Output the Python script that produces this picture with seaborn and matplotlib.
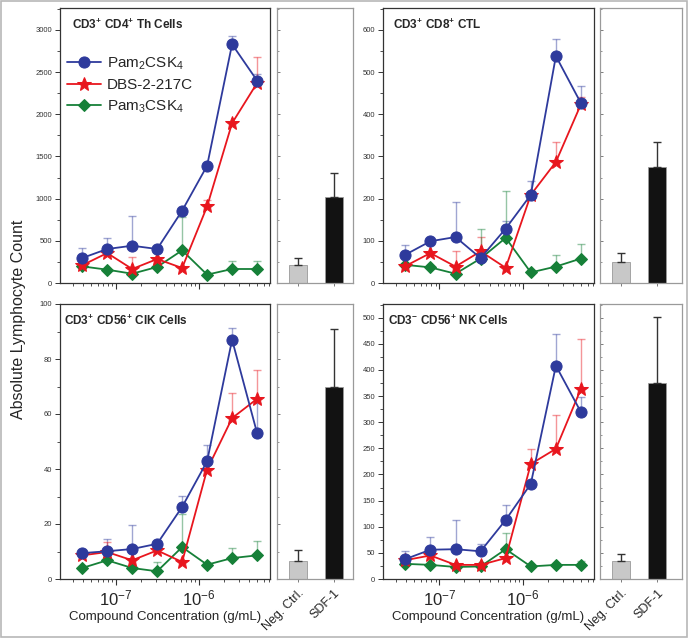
import numpy as np
import pandas as pd
import matplotlib
matplotlib.use("Agg")
import matplotlib.pyplot as plt
from matplotlib.patches import Rectangle
from matplotlib.ticker import MultipleLocator, LogLocator, NullFormatter
import seaborn as sns

# ---------------- data ----------------
conc = [3.90625e-8, 7.8125e-8, 1.5625e-7, 3.125e-7, 6.25e-7, 1.25e-6, 2.5e-6, 5e-6]
series_names = ["Pam$_2$CSK$_4$", "DBS-2-217C", "Pam$_3$CSK$_4$"]
bar_labels = ["Neg. Ctrl.", "SDF-1"]

th_pam2 = [296, 403, 442, 403, 857, 1390, 2830, 2400]
th_pam2_sd = [120, 130, 350, 30, 0, 0, 100, 80]
th_dbs = [210, 355, 166, 284, 178, 908, 1895, 2370]
th_dbs_sd = [0, 0, 140, 0, 0, 80, 0, 315]
th_pam3 = [197, 158, 110, 190, 387, 99, 166, 166]
th_pam3_sd = [0, 0, 0, 0, 400, 0, 90, 100]
th_bars = [213, 1025]
th_bars_sd = [87, 278]

ctl_pam2 = [67, 99, 109, 59, 129, 209, 538, 426]
ctl_pam2_sd = [24, 0, 84, 0, 19, 34, 40, 40]
ctl_dbs = [40, 71, 39, 75, 36, 209, 287, 424]
ctl_dbs_sd = [0, 0, 36, 34, 0, 0, 47, 18]
ctl_pam3 = [43, 37, 22, 58, 107, 25, 39, 58]
ctl_pam3_sd = [0, 0, 0, 70, 112, 0, 27, 34]
ctl_bars = [50, 275]
ctl_bars_sd = [20, 60]

cik_pam2 = [9.4, 10.1, 10.9, 12.8, 26.2, 42.8, 87.0, 53.1]
cik_pam2_sd = [0, 4.4, 8.9, 0, 3.9, 6.0, 4.3, 11]
cik_dbs = [8.6, 9.8, 6.8, 10.4, 6.2, 39.8, 58.5, 65.5]
cik_dbs_sd = [0, 3.5, 0, 0, 0, 0, 9.1, 10.6]
cik_pam3 = [4.0, 6.8, 4.0, 2.8, 11.6, 5.2, 7.6, 8.6]
cik_pam3_sd = [0, 0, 0, 3.3, 12.2, 0, 3.7, 5.1]
cik_bars = [6.5, 70]
cik_bars_sd = [4, 21]

nk_pam2 = [38, 56, 57, 53, 113, 182, 408, 319]
nk_pam2_sd = [16, 25, 55, 13, 28, 0, 61, 30]
nk_dbs = [36, 45, 27, 27, 40, 220, 249, 364]
nk_dbs_sd = [0, 0, 0, 0, 0, 29, 64, 95]
nk_pam3 = [29, 27, 23, 24, 57, 24, 27, 27]
nk_pam3_sd = [0, 0, 0, 0, 31, 0, 0, 7]
nk_bars = [35, 375]
nk_bars_sd = [13, 127]

panel_titles = [r"CD3$^\mathbf{+}$ CD4$^\mathbf{+}$ Th Cells",
                r"CD3$^\mathbf{+}$ CD8$^\mathbf{+}$ CTL",
                r"CD3$^\mathbf{+}$ CD56$^\mathbf{+}$ CIK Cells",
                r"CD3$^\mathbf{-}$ CD56$^\mathbf{+}$ NK Cells"]

# ---------------- style ----------------
sns.set_theme(style="ticks")
plt.rcParams["font.family"] = ["Liberation Sans", "DejaVu Sans"]
plt.rcParams["mathtext.fontset"] = "custom"
plt.rcParams["mathtext.rm"] = "Liberation Sans"
plt.rcParams["mathtext.it"] = "Liberation Sans:italic"
plt.rcParams["mathtext.bf"] = "Liberation Sans:bold"

colors = ["#2e3a9c", "#e8161e", "#168038"]
markers = ["o", "*", "D"]
msizes = [8, 10.5, 6.5]

fig = plt.figure(figsize=(6.88, 6.38), dpi=100)
W, H = 688, 638

def fr(x0, x1, ytop, ybot):
    return [x0 / W, (H - ybot) / H, (x1 - x0) / W, (ybot - ytop) / H]

panels = [
    dict(line=fr(60, 270, 8, 283), bar=fr(277, 353, 8, 283),
         data=[(th_pam2, th_pam2_sd), (th_dbs, th_dbs_sd), (th_pam3, th_pam3_sd)],
         bars=(th_bars, th_bars_sd), ylim=3260, major=500, minor=250, tx=0.057, bottom=False),
    dict(line=fr(383, 594, 8, 283), bar=fr(600, 682, 8, 283),
         data=[(ctl_pam2, ctl_pam2_sd), (ctl_dbs, ctl_dbs_sd), (ctl_pam3, ctl_pam3_sd)],
         bars=(ctl_bars, ctl_bars_sd), ylim=652, major=100, minor=50, tx=0.047, bottom=False),
    dict(line=fr(60, 270, 304, 579), bar=fr(277, 353, 304, 579),
         data=[(cik_pam2, cik_pam2_sd), (cik_dbs, cik_dbs_sd), (cik_pam3, cik_pam3_sd)],
         bars=(cik_bars, cik_bars_sd), ylim=100, major=20, minor=10, tx=0.02, bottom=True),
    dict(line=fr(383, 594, 304, 579), bar=fr(600, 682, 304, 579),
         data=[(nk_pam2, nk_pam2_sd), (nk_dbs, nk_dbs_sd), (nk_pam3, nk_pam3_sd)],
         bars=(nk_bars, nk_bars_sd), ylim=526, major=50, minor=25, tx=0.024, bottom=True),
]

for i, p in enumerate(panels):
    ax = fig.add_axes(p["line"])
    ax.set_xscale("log")
    for k, (vals, sd) in enumerate(p["data"]):
        vals = np.asarray(vals, float)
        sd = np.asarray(sd, float)
        ax.errorbar(conc, vals, yerr=[np.zeros_like(sd), sd], fmt="none",
                    ecolor=colors[k], alpha=0.45, elinewidth=1.0, capsize=3, zorder=2)
    for k, (vals, sd) in enumerate(p["data"]):
        sns.lineplot(x=conc, y=vals, ax=ax, color=colors[k], marker=markers[k],
                     markersize=msizes[k], markeredgecolor=colors[k], linewidth=1.3,
                     label=series_names[k] if i == 0 else None, legend=(i == 0), zorder=3 + (2 - k))
    ax.set_xlim(2.11e-8, 7.16e-6)
    ax.set_ylim(0, p["ylim"])
    ax.yaxis.set_major_locator(MultipleLocator(p["major"]))
    ax.yaxis.set_minor_locator(MultipleLocator(p["minor"]))
    ax.xaxis.set_major_locator(LogLocator(base=10, numticks=10))
    ax.xaxis.set_minor_locator(LogLocator(base=10, subs=np.arange(2, 10), numticks=20))
    ax.xaxis.set_minor_formatter(NullFormatter())
    ax.tick_params(axis="both", which="both", direction="out", color="#333333",
                   bottom=True, left=True, top=False, right=False)
    ax.tick_params(axis="y", which="major", length=3.5, width=0.7, labelsize=5.5, labelcolor="#333333", pad=2)
    ax.tick_params(axis="y", which="minor", length=2, width=0.6)
    ax.tick_params(axis="x", which="major", length=4, width=0.8, labelsize=12, pad=3)
    ax.tick_params(axis="x", which="minor", length=2.5, width=0.6)
    if not p["bottom"]:
        ax.tick_params(axis="x", which="both", labelbottom=False)
    else:
        ax.set_xlabel("Compound Concentration (g/mL)", fontsize=9.5, labelpad=2)
    ax.set_ylabel("")
    for s in ax.spines.values():
        s.set_visible(True)
        s.set_color("#333333")
        s.set_linewidth(0.9)
    ax.text(p["tx"], 0.938, panel_titles[i], transform=ax.transAxes, fontsize=8.5,
            fontweight="bold", ha="left", va="center")
    if i == 0:
        ax.legend(loc="upper left", bbox_to_anchor=(-0.01, 0.86), frameon=False, fontsize=11,
                  handlelength=2.2, handletextpad=0.4, labelspacing=0.4, borderaxespad=0.2)

    # bar panel
    bx = fig.add_axes(p["bar"])
    bdf = pd.DataFrame({"group": bar_labels, "value": p["bars"][0]})
    sns.barplot(data=bdf, x="group", y="value", hue="group", palette=["#c8c8c8", "#121212"],
                width=0.5, ax=bx, legend=False, edgecolor=["#9a9a9a", "#000000"], linewidth=0.6)
    bx.errorbar([0, 1], p["bars"][0], yerr=[[0, 0], p["bars"][1]], fmt="none",
                ecolor="#333333", elinewidth=1.0, capsize=3)
    bx.set_xlim(-0.58, 1.53 if i % 2 == 0 else 1.68)
    bx.set_ylim(0, p["ylim"])
    bx.yaxis.set_major_locator(MultipleLocator(p["major"]))
    bx.yaxis.set_minor_locator(MultipleLocator(p["minor"]))
    bx.tick_params(axis="y", which="both", direction="in", labelleft=False, color="#666666",
                   left=True, right=False)
    bx.tick_params(axis="y", which="major", length=2.5, width=0.6)
    bx.tick_params(axis="y", which="minor", length=1.5, width=0.5)
    bx.tick_params(axis="x", direction="out", length=2.5, width=0.6, color="#666666", bottom=True)
    bx.set_xlabel("")
    bx.set_ylabel("")
    bx.set_xticks([0, 1])
    if p["bottom"]:
        bx.set_xticklabels(bar_labels, rotation=45, ha="right", rotation_mode="anchor", fontsize=9)
    else:
        bx.set_xticklabels([])
    for s in bx.spines.values():
        s.set_visible(True)
        s.set_color("#9a9a9a")
        s.set_linewidth(0.9)

fig.text(0.027, 0.5, "Absolute Lymphocyte Count", rotation=90, ha="center", va="center", fontsize=11.5)
fig.patches.append(Rectangle((0.002, 0.002), 0.996, 0.996, transform=fig.transFigure,
                             fill=False, edgecolor="#b8b8b8", linewidth=1.2))

fig.savefig("out.png", dpi=100)
